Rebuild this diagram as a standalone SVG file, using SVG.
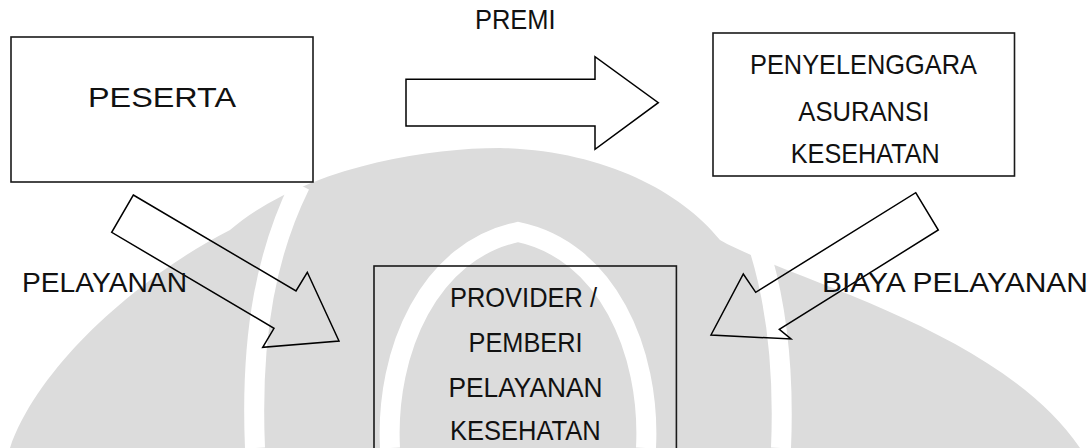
<svg xmlns="http://www.w3.org/2000/svg" width="1090" height="448" viewBox="0 0 1090 448">
<style>
.box{fill:none;stroke:#1a1a1a;stroke-width:1.6}
.arr{fill:none;stroke:#000;stroke-width:1.5;stroke-linejoin:miter}
.t{font-family:"Liberation Sans",Arial,sans-serif;font-size:28px;fill:#111;text-anchor:middle}
.tl{font-family:"Liberation Sans",Arial,sans-serif;font-size:28px;fill:#111}
.wm{fill:#dcdcdc}
.wb{fill:none;stroke:#ffffff;stroke-width:20}
</style>
<rect width="1090" height="448" fill="#ffffff"/>
<g id="watermark">
<path class="wm" d="M 10 448 C 40 360 150 270 230 230 C 300 170 420 148 500 148 C 600 150 680 190 720 240 C 790 280 1000 330 1080 448 Z"/>
<path class="wb" d="M 300 185 C 268 250 250 330 255 448"/>
<path class="wb" d="M 736 190 C 766 250 786 330 781 448"/>
<path class="wb" d="M 390 448 C 385 350 430 250 518 232 C 606 250 651 350 646 448"/>
</g>
<g id="peserta">
<rect class="box" x="11" y="37" width="302" height="145"/>
<text class="t" x="162" y="107" font-size="37" textLength="148" lengthAdjust="spacingAndGlyphs">PESERTA</text>
</g>
<g id="penyelenggara">
<rect class="box" x="713" y="33" width="301.5" height="143"/>
<text class="t" x="863.5" y="74.3" textLength="227" lengthAdjust="spacingAndGlyphs">PENYELENGGARA</text>
<text class="t" x="863.8" y="121" textLength="131" lengthAdjust="spacingAndGlyphs">ASURANSI</text>
<text class="t" x="865.3" y="163.3" textLength="149" lengthAdjust="spacingAndGlyphs">KESEHATAN</text>
</g>
<g id="provider">
<rect class="box" x="374" y="266" width="302.4" height="210"/>
<text class="t" x="523.5" y="306.7" textLength="147" lengthAdjust="spacingAndGlyphs">PROVIDER /</text>
<text class="t" x="525.5" y="351.7" textLength="114" lengthAdjust="spacingAndGlyphs">PEMBERI</text>
<text class="t" x="525.5" y="396.7" textLength="154" lengthAdjust="spacingAndGlyphs">PELAYANAN</text>
<text class="t" x="525.3" y="440" textLength="150.7" lengthAdjust="spacingAndGlyphs">KESEHATAN</text>
</g>
<g id="connectors">
<g id="premi">
<polygon class="arr" points="406,79.3 595,79.3 595,56.7 658.3,102.7 595,149.3 595,126 406,126"/>
<text class="t" x="515.3" y="29.3" textLength="80.7" lengthAdjust="spacingAndGlyphs">PREMI</text>
</g>
<g id="pelayanan">
<polygon class="arr" points="133.3,195 296,291 307.3,272.3 339,341 262.7,347.3 274,328.3 111.7,232.3"/>
<text class="tl" x="22" y="292" textLength="165" lengthAdjust="spacingAndGlyphs">PELAYANAN</text>
</g>
<g id="biaya">
<polygon class="arr" points="915.7,192.7 938.3,230 779.3,329.3 791,339 711,335 743.3,274 755.7,292.3"/>
<text class="tl" x="822" y="292" textLength="266" lengthAdjust="spacingAndGlyphs">BIAYA PELAYANAN</text>
</g>
</g>
</svg>
